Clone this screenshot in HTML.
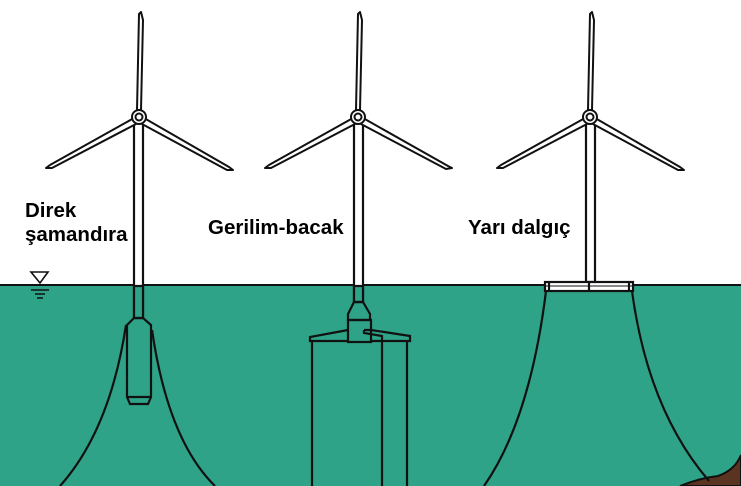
<!DOCTYPE html>
<html><head><style>
html,body{margin:0;padding:0;background:#fff;}
svg{display:block;}
text{font-family:"Liberation Sans",sans-serif;font-weight:bold;font-size:20.5px;fill:#000;}
</style></head><body>
<svg width="741" height="486" viewBox="0 0 741 486" xmlns="http://www.w3.org/2000/svg">
<rect x="0" y="285" width="741" height="201" fill="#2ea387"/>
<line x1="0" y1="285" x2="741" y2="285" stroke="#111" stroke-width="2"/>
<path d="M680,486 Q700,478 718,476 Q735,470 741,455 L741,486 Z" fill="#5a3420" stroke="#111" stroke-width="2"/>
<path d="M31,272 L48,272 L40,283 Z" fill="none" stroke="#111" stroke-width="1.6"/>
<line x1="31" y1="290" x2="49" y2="290" stroke="#111" stroke-width="1.5"/>
<line x1="35" y1="294" x2="45" y2="294" stroke="#111" stroke-width="1.5"/>
<line x1="37" y1="298" x2="43" y2="298" stroke="#111" stroke-width="1.5"/>

<g stroke="#111" stroke-width="2.2" fill="none">
<rect x="134" y="122" width="9" height="196" fill="#fff"/>
<rect x="134" y="286" width="9" height="32" fill="#2ea387"/>
<path d="M134,318 L143,318 L151,325 L151,397 L148,404 L130,404 L127,397 L127,325 Z"/>
<line x1="127" y1="397" x2="151" y2="397"/>
<path d="M126,325 Q110,430 60,486"/>
<path d="M152,330 Q168,440 215,486"/>
<rect x="354" y="122" width="9" height="180" fill="#fff"/>
<rect x="354" y="286" width="9" height="16" fill="#2ea387"/>
<path d="M354,302 L363,302 L370,314 L370,320 L348,320 L348,314 Z"/>
<rect x="348" y="320" width="23" height="22"/>
<path d="M348,330 L310,337 L310,341 L348,341"/>
<path d="M364,330 L371,330 L410,336 L410,341 L371,341"/>
<path d="M364,330 L364,333 L382,336 L382,486"/>
<line x1="312" y1="341" x2="312" y2="486"/>
<line x1="407" y1="341" x2="407" y2="486"/>
<rect x="586" y="122" width="9" height="160" fill="#fff"/>
<rect x="545" y="282" width="88" height="9" fill="#fff"/>
<line x1="549" y1="282" x2="549" y2="291"/>
<line x1="629" y1="282" x2="629" y2="291"/>
<line x1="589" y1="282" x2="589" y2="291"/>
<line x1="545" y1="286" x2="633" y2="286" stroke-width="1"/>
<path d="M546,291 Q530,420 484,486"/>
<path d="M632,291 Q648,410 709,481"/>
</g>

<g stroke="#111" stroke-width="2" fill="#fff" stroke-linejoin="round">
<path d="M137,110 L139,14 L141,12 L143,20 L141,110 Z"/>
<path d="M134,118 L50,165 L46,168 L52,168 L136,124 Z"/>
<path d="M144,118 L229,167 L233,170 L227,170 L142,124 Z"/>
<circle cx="139" cy="117" r="7"/>
<circle cx="139" cy="117" r="3.5"/>
</g>
<g stroke="#111" stroke-width="2" fill="#fff" stroke-linejoin="round">
<path d="M356,110 L358,14 L360,12 L362,20 L360,110 Z"/>
<path d="M353,118 L269,165 L265,168 L271,168 L355,124 Z"/>
<path d="M363,118 L448,166 L452,168 L446,169 L361,124 Z"/>
<circle cx="358" cy="117" r="7"/>
<circle cx="358" cy="117" r="3.5"/>
</g>
<g stroke="#111" stroke-width="2" fill="#fff" stroke-linejoin="round">
<path d="M588,110 L590,14 L592,12 L594,20 L592,110 Z"/>
<path d="M585,118 L501,165 L497,168 L503,168 L587,124 Z"/>
<path d="M595,118 L680,167 L684,170 L678,170 L593,124 Z"/>
<circle cx="590" cy="117" r="7"/>
<circle cx="590" cy="117" r="3.5"/>
</g>

<text x="25" y="217">Direk</text>
<text x="25" y="241">şamandıra</text>
<text x="208" y="234">Gerilim-bacak</text>
<text x="468" y="234">Yarı dalgıç</text>
</svg>
</body></html>
